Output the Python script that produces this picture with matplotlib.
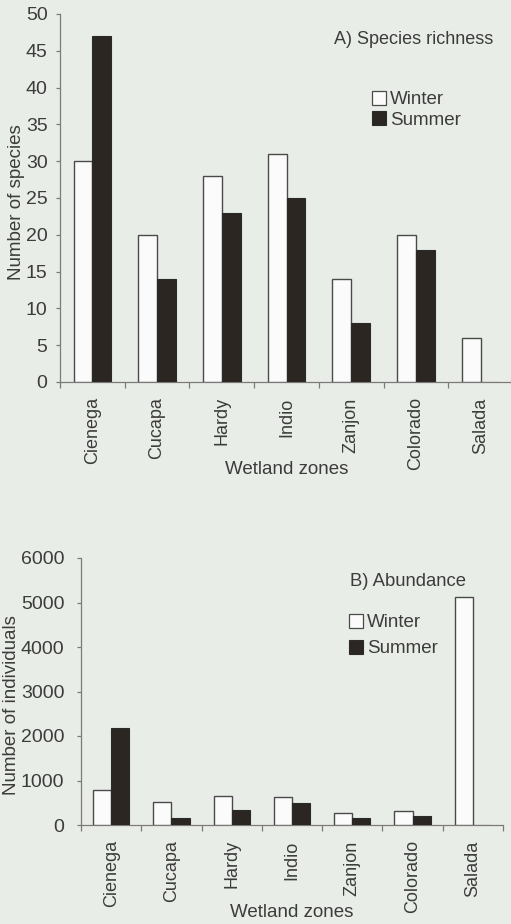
import matplotlib
matplotlib.use("Agg")
import matplotlib.pyplot as plt
from matplotlib.patches import Patch
import numpy as np

# Data
zones = ["Cienega", "Cucapa", "Hardy", "Indio", "Zanjon", "Colorado", "Salada"]
richness_winter = [30, 20, 28, 31, 14, 20, 6]
richness_summer = [47, 14, 23, 25, 8, 18, 0]
abund_winter = [790, 520, 650, 640, 260, 315, 5115]
abund_summer = [2180, 165, 335, 490, 165, 200, 0]

plt.rcParams["font.family"] = ["Liberation Sans", "DejaVu Sans"]

bg = "#e9ede7"
txt = "#3c3c3c"
spine = "#7a7a7a"
dark = "#2b2622"
W, H = 511, 924

fig = plt.figure(figsize=(W / 100, H / 100), dpi=100, facecolor=bg)


def px_axes(left, top, right, bottom):
    return fig.add_axes([left / W, 1 - bottom / H, (right - left) / W, (bottom - top) / H])


def draw_panel(ax, winter, summer, ymax, ystep, bw, ypad):
    x = np.arange(len(zones)) + 0.5
    ax.bar(x - bw / 2, winter, bw, color="#fbfbfb", edgecolor="#4a4a4a", linewidth=1.0, zorder=3)
    ax.bar(x + bw / 2, summer, bw, color=dark, edgecolor="#2a2a2a", linewidth=0.8, zorder=3)
    ax.set_xlim(0, len(zones))
    ax.set_ylim(0, ymax)
    ax.set_facecolor("none")
    for s in ["top", "right"]:
        ax.spines[s].set_visible(False)
    for s in ["left", "bottom"]:
        ax.spines[s].set_color(spine)
        ax.spines[s].set_linewidth(0.9)
    ax.set_yticks(np.arange(0, ymax + 1, ystep))
    ax.set_xticks(np.arange(len(zones) + 1))
    ax.set_xticklabels([])
    ax.set_xticks(x, minor=True)
    ax.set_xticklabels(zones, minor=True, rotation=90, fontsize=13, color=txt)
    ax.tick_params(axis="x", which="major", length=4, color=spine, width=0.9)
    ax.tick_params(axis="x", which="minor", length=0, pad=11)
    ax.tick_params(axis="y", length=3, color=spine, width=0.9, labelsize=14,
                   labelcolor=txt, pad=ypad)


# Panel A
ax1 = px_axes(60, 14, 513, 382)
draw_panel(ax1, richness_winter, richness_summer, 50, 5, 0.29, 6)
ax1.set_ylabel("Number of species", fontsize=13.5, color=txt, va="center")
ax1.yaxis.set_label_coords(-0.097, 0.49)
ax1.set_xlabel("Wetland zones", fontsize=13.5, color=txt, va="center")
ax1.xaxis.set_label_coords(0.5, -0.238)

# Panel B
ax2 = px_axes(81, 558, 503, 825)
draw_panel(ax2, abund_winter, abund_summer, 6000, 1000, 0.3, 9)
ax2.set_ylabel("Number of individuals", fontsize=13.5, color=txt, va="center")
ax2.yaxis.set_label_coords(-0.165, 0.45)
ax2.set_xlabel("Wetland zones", fontsize=13.5, color=txt, va="center")
ax2.xaxis.set_label_coords(0.5, -0.328)

handles = [Patch(facecolor="#fbfbfb", edgecolor="#4a4a4a", linewidth=0.9),
           Patch(facecolor=dark, edgecolor="#2a2a2a", linewidth=0.8)]

fig.text(334 / W, 1 - 39 / H, "A) Species richness", fontsize=13, color=txt, va="center")
fig.legend(handles, ["Winter", "Summer"], loc="upper left",
           bbox_to_anchor=(372 / W, 1 - 91 / H), frameon=False, fontsize=13.5,
           handlelength=0.75, handleheight=0.75, handletextpad=0.2,
           labelspacing=0.15, borderpad=0, borderaxespad=0, labelcolor=txt)

fig.text(350 / W, 1 - 582 / H, "B) Abundance", fontsize=13.3, color=txt, va="center")
fig.legend(handles, ["Winter", "Summer"], loc="upper left",
           bbox_to_anchor=(349 / W, 1 - 614 / H), frameon=False, fontsize=13.5,
           handlelength=0.75, handleheight=0.75, handletextpad=0.2,
           labelspacing=0.45, borderpad=0, borderaxespad=0, labelcolor=txt)

fig.savefig("out.png", dpi=100, facecolor=bg)
